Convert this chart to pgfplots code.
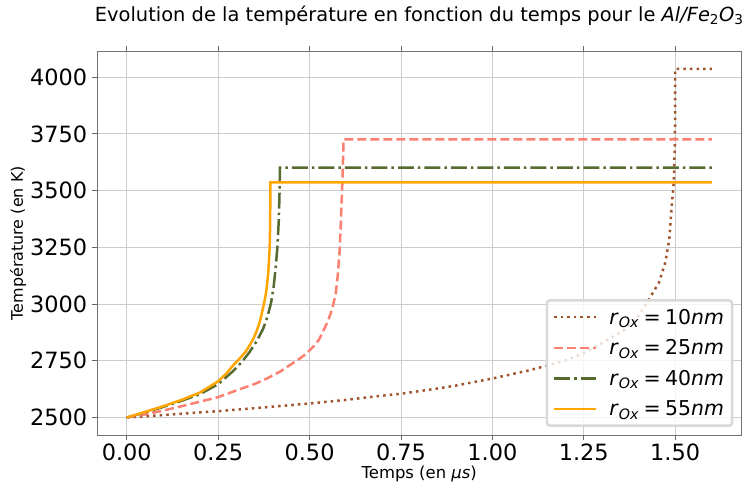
\documentclass[border=0pt]{standalone}
\usepackage{fontspec}
\setmainfont{DejaVu Sans}
\usepackage{pgfplots}
\pgfplotsset{compat=1.18}

\definecolor{csienna}{HTML}{A0522D}
\definecolor{csalmon}{HTML}{FA8072}
\definecolor{colive}{HTML}{556B2F}
\definecolor{corange}{HTML}{FFA500}

\begin{document}
\begin{tikzpicture}
  \begin{axis}[name=ax, scale only axis, width=643.5bp, height=383.5bp,
    xmin=-0.08, xmax=1.68, ymin=2423.2, ymax=4112.8,
    xtick={0,0.25,...,1.5}, ytick={2500,2750,...,4000},
    /pgf/number format/assume math mode=true,
    tick label style={font=\fontsize{22.5}{26}\selectfont, inner sep=0pt},
    xticklabel style={/pgf/number format/fixed, /pgf/number format/fixed zerofill,
      /pgf/number format/precision=2, anchor=base, yshift=-20.5bp},
    yticklabel style={/pgf/number format/1000 sep={}, anchor=east, xshift=-4bp},
    tick align=outside, major tick length=5bp,
    every tick/.style={draw=black!60, line width=0.8bp},
    axis line style={draw=black!55, line width=0.9bp},
    grid=major, major grid style={draw=black!20, line width=0.8bp},
    title={Evolution de la température en fonction du temps pour le \textit{Al/Fe}\textsubscript{2}\textit{O}\textsubscript{3}},
    title style={at={(axis description cs:0.5,1.0634)}, anchor=base, font=\fontsize{19.5}{22}\selectfont, inner sep=0pt},
    xlabel={Temps (en \textit{μs})},
    xlabel style={at={(axis description cs:0.5,-0.1141)}, anchor=base, font=\fontsize{16.5}{19}\selectfont, inner sep=0pt},
    ylabel={Température (en K)},
    ylabel style={at={(axis description cs:-0.1232,0.5)}, anchor=center, font=\fontsize{16}{19}\selectfont, inner sep=0pt},
    legend cell align=left,
    legend image code/.code={\draw[#1] (0bp,0bp) -- (42bp,0bp); \path (52bp,0bp);},
    legend style={at={(0.988,0.021)}, anchor=south east, rounded corners=3bp,
      draw=black!15, fill=white, fill opacity=0.8, text opacity=1,
      font=\fontsize{20.5}{24}\selectfont, row sep=10bp, inner xsep=6bp, inner ysep=6.5bp},
    line width=2.5bp,
  ]
  % r_Ox = 10 nm
  \addplot[csienna, dash pattern=on 2.5bp off 4.1bp] coordinates {
    (0,2500) (0.1,2511) (0.2,2523) (0.25,2528) (0.3,2535) (0.4,2548)
    (0.5,2562) (0.6,2578) (0.69,2595) (0.75,2605) (0.85,2628) (0.9,2641)
    (1.0,2672) (1.1,2708) (1.145,2727) (1.2,2752) (1.25,2784) (1.318,2845)
    (1.36,2885) (1.4,2950) (1.429,3023) (1.456,3096) (1.473,3184) (1.484,3286)
    (1.49,3418) (1.496,3536) (1.499,3700) (1.5,3850) (1.5,4036) (1.6,4036)
  };
  \addlegendentry{\textit{r}\textsubscript{\textit{Ox}}\hspace{0.22em}=\hspace{0.22em}10\textit{nm}}
  % r_Ox = 25 nm
  \addplot[csalmon, dash pattern=on 9bp off 4bp] coordinates {
    (0,2500) (0.05,2514) (0.1,2531) (0.15,2550) (0.2,2570) (0.25,2590)
    (0.309,2625) (0.35,2648) (0.382,2671) (0.42,2703) (0.445,2730) (0.475,2762)
    (0.49,2780) (0.5,2796) (0.51,2812) (0.52,2830) (0.528,2850) (0.536,2877)
    (0.543,2900) (0.55,2925) (0.557,2955) (0.564,2993) (0.568,3020) (0.572,3050)
    (0.577,3125) (0.582,3230) (0.586,3374) (0.59,3550) (0.593,3726) (1.6,3726)
  };
  \addlegendentry{\textit{r}\textsubscript{\textit{Ox}}\hspace{0.22em}=\hspace{0.22em}25\textit{nm}}
  % r_Ox = 40 nm
  \addplot[colive, dash pattern=on 16bp off 4bp on 2.5bp off 4bp] coordinates {
    (0,2500) (0.05,2523) (0.1,2547) (0.15,2574) (0.2,2603) (0.25,2647)
    (0.27,2675) (0.291,2705) (0.315,2745) (0.336,2789) (0.355,2835) (0.373,2891)
    (0.385,2945) (0.395,3008) (0.402,3080) (0.407,3155) (0.412,3250) (0.416,3374)
    (0.418,3500) (0.419,3601) (1.6,3601)
  };
  \addlegendentry{\textit{r}\textsubscript{\textit{Ox}}\hspace{0.22em}=\hspace{0.22em}40\textit{nm}}
  % r_Ox = 55 nm
  \addplot[corange, solid] coordinates {
    (0,2500) (0.05,2525) (0.1,2550) (0.15,2578) (0.2,2610) (0.25,2660)
    (0.27,2690) (0.291,2730) (0.31,2762) (0.325,2790) (0.336,2818) (0.347,2850)
    (0.355,2880) (0.362,2912) (0.368,2949) (0.373,2985) (0.377,3015) (0.381,3050)
    (0.384,3090) (0.387,3140) (0.389,3190) (0.391,3257) (0.392,3330) (0.3925,3420)
    (0.393,3536) (1.6,3536)
  };
  \addlegendentry{\textit{r}\textsubscript{\textit{Ox}}\hspace{0.22em}=\hspace{0.22em}55\textit{nm}}
  \end{axis}
  \pgfresetboundingbox
  \useasboundingbox (ax.south west) ++(-97.5bp,-51bp) rectangle ++(742bp,486bp);
\end{tikzpicture}
\end{document}
